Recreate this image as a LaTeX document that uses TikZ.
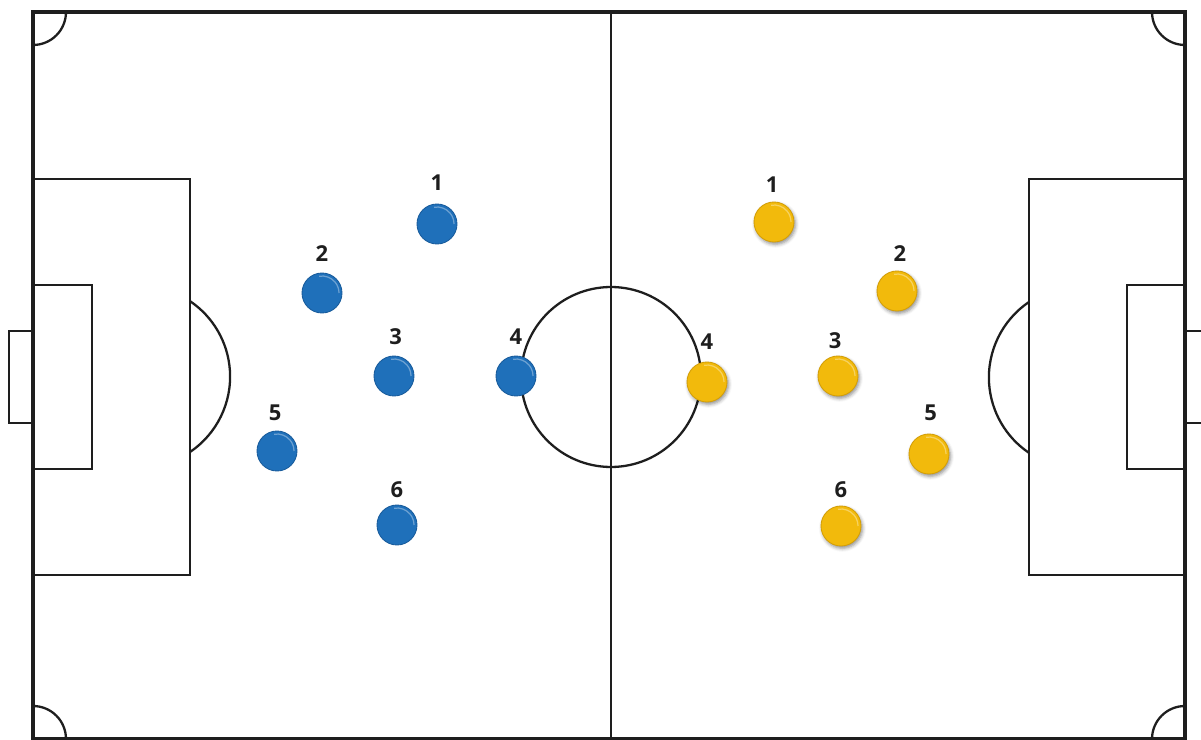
\documentclass[tikz,border=0pt]{standalone}
\usepackage{fontspec}
\setmainfont{Open Sans}
\usetikzlibrary{positioning,shadows.blur}
\definecolor{pitchline}{HTML}{1E1E1E}
\definecolor{teamblue}{HTML}{1F70BA}
\definecolor{teamblueedge}{HTML}{195C9C}
\definecolor{teamgold}{HTML}{F2BA0C}
\definecolor{teamgoldedge}{HTML}{D49F08}

\begin{document}
\begin{tikzpicture}[
  x=0.02cm, y=-0.02cm,
  node distance=6pt,
  line/.style={draw=pitchline, line width=1.3pt},
  border/.style={draw=pitchline, line width=2.8pt},
  shine/.style={path picture={
    \draw[white, opacity=0.35, line width=0.7pt]
      ([shift={(100:0.34cm)}]path picture bounding box.center)
      arc[start angle=100, end angle=0, radius=0.34cm];}},
  blueplayer/.style={circle, minimum size=0.8cm, inner sep=0pt, fill=teamblue, draw=teamblueedge, line width=0.5pt, shine},
  goldplayer/.style={circle, minimum size=0.8cm, inner sep=0pt, fill=teamgold, draw=teamgoldedge, line width=0.5pt, shine,
    blur shadow={shadow xshift=0.8pt, shadow yshift=-1.3pt, shadow blur radius=2pt, shadow opacity=45}},
  num/.style={font=\fontsize{12.5}{15}\selectfont\bfseries, text=pitchline, inner sep=0pt}
]
\useasboundingbox (0,0) rectangle (1201,740);

% pitch
\draw[border] (33,12) rectangle (1185,739);
\draw[line] (611,12) -- (611,739);
\draw[line] (611,377) circle[radius=1.8cm];
% corners
\draw[line] (66,12) arc[start angle=0, end angle=-90, radius=0.66cm];
\draw[line] (1152,12) arc[start angle=180, end angle=270, radius=0.66cm];
\draw[line] (33,706) arc[start angle=90, end angle=0, radius=0.66cm];
\draw[line] (1185,706) arc[start angle=90, end angle=180, radius=0.66cm];
% left end
\draw[line] (33,179) -- (190,179) -- (190,575) -- (33,575);
\draw[line] (33,285) -- (92,285) -- (92,469) -- (33,469);
\draw[line] (33,331) -- (9,331) -- (9,423) -- (33,423);
\draw[line] (190,452) arc[start angle=-56, end angle=56, radius=1.82cm];
% right end
\draw[line] (1185,179) -- (1029,179) -- (1029,575) -- (1185,575);
\draw[line] (1185,285) -- (1127,285) -- (1127,469) -- (1185,469);
\draw[line] (1185,331) -- (1201,331);
\draw[line] (1185,423) -- (1201,423);
\draw[line] (1029,302) arc[start angle=124, end angle=236, radius=1.82cm];

% blue team
\node[blueplayer] (b1) at (437,224) {};
\node[blueplayer] (b2) at (322,293) {};
\node[blueplayer] (b3) at (394,376) {};
\node[blueplayer] (b4) at (516,376) {};
\node[blueplayer] (b5) at (277,451) {};
\node[blueplayer] (b6) at (397,525) {};
\node[num, above=7.5pt of b1] (bn1) {1};
\node[num, above=6pt of b2] (bn2) {2};
\node[num, above=6pt of b3, xshift=1pt] (bn3) {3};
\node[num, above=6pt of b4] (bn4) {4};
\node[num, above=5.5pt of b5, xshift=-1pt] (bn5) {5};
\node[num, above=3.5pt of b6] (bn6) {6};

% yellow team
\node[goldplayer] (y1) at (774,222) {};
\node[goldplayer] (y2) at (897,291) {};
\node[goldplayer] (y3) at (838,376) {};
\node[goldplayer] (y4) at (707,382) {};
\node[goldplayer] (y5) at (929,454) {};
\node[goldplayer] (y6) at (841,526) {};
\node[num, above=5pt of y1, xshift=-1pt] (yn1) {1};
\node[num, above=5pt of y2, xshift=1.7pt] (yn2) {2};
\node[num, above=3.5pt of y3, xshift=-1.7pt] (yn3) {3};
\node[num, above=6.5pt of y4] (yn4) {4};
\node[num, above=7pt of y5, xshift=1pt] (yn5) {5};
\node[num, above=4pt of y6] (yn6) {6};
\end{tikzpicture}
\end{document}
